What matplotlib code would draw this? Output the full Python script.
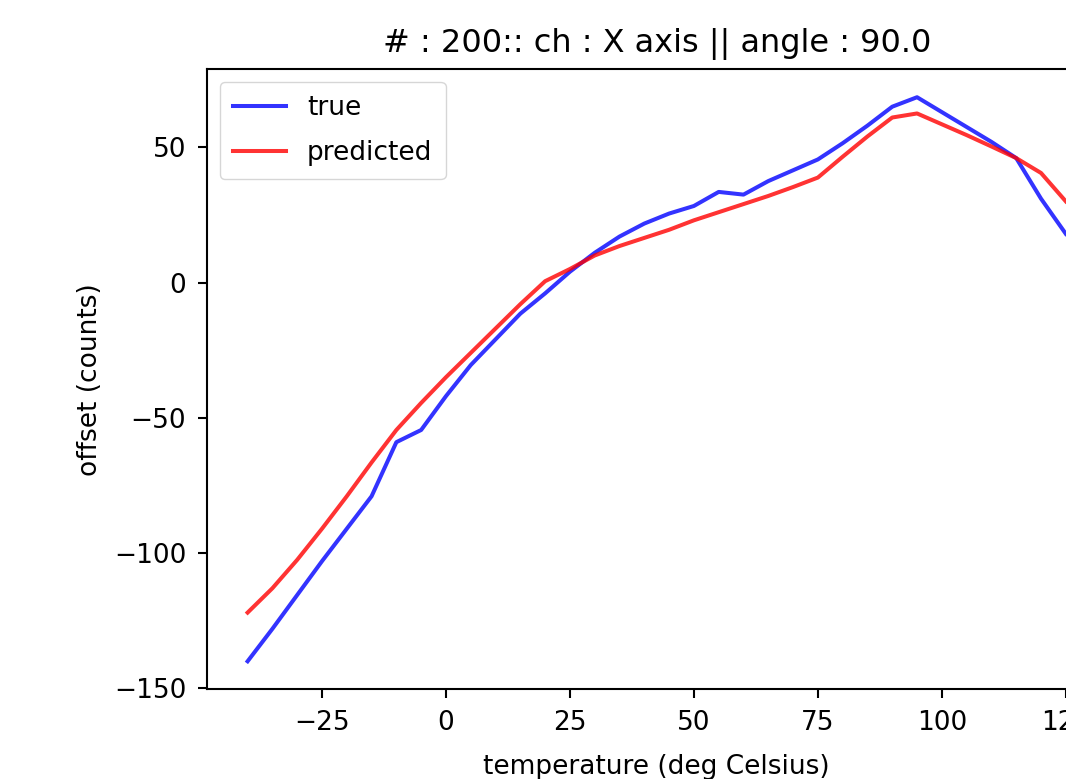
import matplotlib
matplotlib.use("Agg")
import matplotlib.pyplot as plt

# temperature steps (deg C)
temps = [-40, -35, -30, -25, -20, -15, -10, -5, 0, 5, 10, 15, 20, 25, 30, 35,
         40, 45, 50, 55, 60, 65, 70, 75, 80, 85, 90, 95, 100, 105, 110, 115, 120, 125]

# measured offset
true_vals = [-140, -128, -115.5, -103, -91, -79, -59, -54.5, -42, -30.5, -21, -11.5,
             -4, 4, 11, 17, 21.8, 25.5, 28.3, 33.5, 32.5, 37.5, 41.5, 45.5, 51.5, 58,
             65, 68.5, 63, 57.5, 52, 46, 31, 18]

# model output
pred_vals = [-122, -113, -102.5, -91, -79, -66.5, -54.5, -44.5, -35, -26, -17, -8,
             0.5, 5, 10, 13.5, 16.5, 19.5, 23, 26, 29, 32, 35.3, 38.8, 46.5, 54,
             61, 62.5, 58.5, 54.5, 50.3, 46, 40.5, 30]

title_txt = "# : 200:: ch : X axis || angle : 90.0"

fs = 19
fig = plt.figure(figsize=(10.66, 7.79), dpi=100)
ax = fig.add_axes([0.1939, 0.1149, 0.8443, 0.7965])

ax.plot(temps, true_vals, color="b", alpha=0.8, lw=2.9, label="true")
ax.plot(temps, pred_vals, color="r", alpha=0.8, lw=2.9, label="predicted")

ax.set_title(title_txt, fontsize=23, pad=12)
ax.set_xlabel("temperature (deg Celsius)", fontsize=fs, labelpad=13)
ax.set_ylabel("offset (counts)", fontsize=fs, labelpad=8)
ax.tick_params(labelsize=fs, length=6.8, width=1.5, pad=8)
for s in ax.spines.values():
    s.set_linewidth(1.5)

leg = ax.legend(loc="upper left", fontsize=fs, handlelength=2, borderpad=0.5,
                labelspacing=0.7)

fig.savefig("out.png", dpi=100)
